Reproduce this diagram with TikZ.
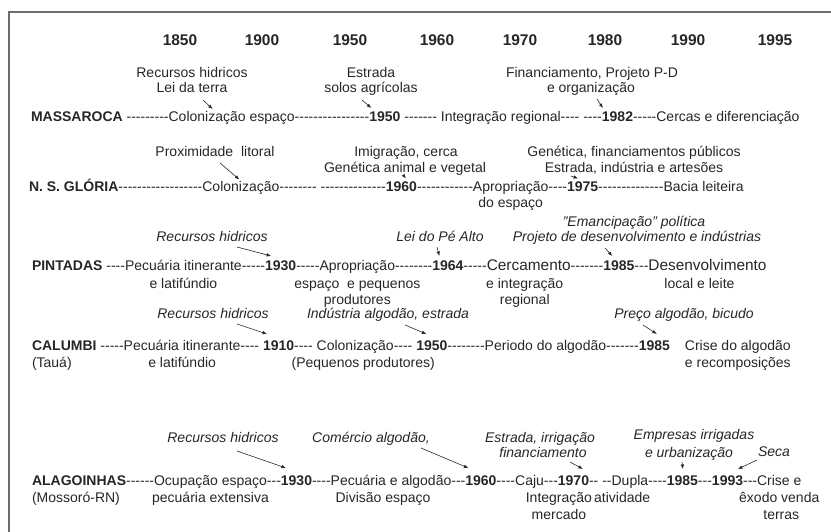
\documentclass[tikz,border=0pt]{standalone}
\usepackage{fontspec}
\setmainfont{Liberation Sans}
\usetikzlibrary{calc,arrows.meta}
\ExplSyntaxOn
\NewDocumentCommand\dsh{m}{\prg_replicate:nn{#1}{-\kern0pt}}
\ExplSyntaxOff
\newcommand\tsp{\ \mbox{}}
\definecolor{ink}{HTML}{262626}
\definecolor{framec}{HTML}{6E6E6E}
\newcommand\fs{\fontsize{14}{15}\selectfont}
\newcommand\fb{\fontsize{15.4}{16}\selectfont}
\tikzset{
  seg/.style={inner sep=0pt, outer sep=0pt, anchor=base west, font=\fs, text=ink},
  lab/.style={seg, font=\fs\bfseries},
  yr/.style={seg, font=\fs\bfseries},
  big/.style={seg, font=\fb},
  note/.style={inner sep=0pt, outer sep=0pt, anchor=base, font=\fs, text=ink},
  inote/.style={note, font=\fs\itshape},
  head/.style={note, font=\fontsize{15.5}{16}\selectfont\bfseries},
  arr/.style={draw=ink, line width=0.6pt, -{Latex[length=4.5pt,width=3.5pt]}},
}
\begin{document}
\begin{tikzpicture}[x=1pt,y=1pt]
\useasboundingbox (0,0) rectangle (831,-532);
\draw[framec, line width=1.6pt] (9,-532) -- (9,-12) -- (831,-12);

% header years
\node[head] (h1) at (180,-46) {1850};
\node[head] (h2) at (262,-46) {1900};
\node[head] (h3) at (350,-46) {1950};
\node[head] (h4) at (437,-46) {1960};
\node[head] (h5) at (520,-46) {1970};
\node[head] (h6) at (605,-46) {1980};
\node[head] (h7) at (688,-46) {1990};
\node[head] (h8) at (775,-46) {1995};

% ---------------- MASSAROCA
\node[note] (a1a) at (192,-78) {Recursos hidricos};
\node[note] (a1b) at (192,-93) {Lei da terra};
\node[note] (a2a) at (371,-78) {Estrada};
\node[note] (a2b) at (371,-93) {solos agrícolas};
\node[note] (a3a) at (592,-78) {Financiamento, Projeto P-D};
\node[note] (a3b) at (591,-93) {e organização};

\node[lab] (m0) at (31,-122) {MASSAROCA\tsp};
\node[seg] (m1) at (m0.base east) {\dsh{9}};
\node[seg] (m2) at (m1.base east) {Colonização espaço};
\node[seg] (m3) at (m2.base east) {\dsh{16}};
\node[yr]  (m4) at (m3.base east) {1950};
\node[seg] (m5) at (m4.base east) {\ \dsh{7}\tsp};
\node[seg] (m6) at (m5.base east) {Integração regional};
\node[seg] (m7) at (m6.base east) {\dsh{4}\ \dsh{4}};
\node[yr]  (m8) at (m7.base east) {1982};
\node[seg] (m9) at (m8.base east) {\dsh{5}};
\node[seg] (m10) at (m9.base east) {Cercas e diferenciação};

\draw[arr] ($(a1b.base)+(11,-7)$) -- ($(m2.base west)+(44,13)$);
\draw[arr] ($(a2b.base)+(-9,-7)$) -- ($(m4.base west)+(2,14)$);
\draw[arr] ($(a3b.base)+(6,-6)$) -- ($(m8.base west)+(1,14)$);

% ---------------- N. S. GLORIA
\node[note] (b1) at (215,-157) {Proximidade\ \ litoral};
\node[note] (b2a) at (406,-157) {Imigração, cerca};
\node[note] (b2b) at (405,-173) {Genética animal e vegetal};
\node[note] (b3a) at (634,-157) {Genética, financiamentos públicos};
\node[note] (b3b) at (634,-173) {Estrada, indústria e artesões};

\node[lab] (g0) at (29,-192) {N. S. GLÓRIA};
\node[seg] (g1) at (g0.base east) {\dsh{18}};
\node[seg] (g2) at (g1.base east) {Colonização};
\node[seg] (g3) at (g2.base east) {\dsh{8}\ \dsh{14}};
\node[yr]  (g4) at (g3.base east) {1960};
\node[seg] (g5) at (g4.base east) {\dsh{12}};
\node[seg] (g6) at (g5.base east) {Apropriação};
\node[seg] (g7) at (g6.base east) {\dsh{4}};
\node[yr]  (g8) at (g7.base east) {1975};
\node[seg] (g9) at (g8.base east) {\dsh{14}};
\node[seg] (g10) at (g9.base east) {Bacia leiteira};
\node[note] (gs1) at ($(g6.base)+(0,-16)$) {do espaço};

\draw[arr] ($(b1.base)+(5,-6)$) -- ($(g2.base west)+(37,12.5)$);
\draw[arr] ($(b2b.base)+(-1,-3)$) -- ($(g4.base west)+(20,13.5)$);
\draw[arr] ($(b3b.base)+(-63,-3)$) -- ($(g8.base west)+(11,13.5)$);

% ---------------- PINTADAS
\node[inote] (c1) at (212,-241) {Recursos hidricos};
\node[inote] (c2) at (440,-241) {Lei do Pé Alto};
\node[inote] (c3a) at (634,-227) {"Emancipação" política};
\node[inote] (c3b) at (637,-242) {Projeto de desenvolvimento e indústrias};

\node[lab] (p0) at (32,-271) {PINTADAS\tsp};
\node[seg] (p1) at (p0.base east) {\dsh{4}};
\node[seg] (p2) at (p1.base east) {Pecuária itinerante};
\node[seg] (p3) at (p2.base east) {\dsh{5}};
\node[yr]  (p4) at (p3.base east) {1930};
\node[seg] (p5) at (p4.base east) {\dsh{5}};
\node[seg] (p6) at (p5.base east) {Apropriação};
\node[seg] (p7) at (p6.base east) {\dsh{8}};
\node[yr]  (p8) at (p7.base east) {1964};
\node[seg] (p9) at (p8.base east) {\dsh{5}};
\node[big] (p10) at (p9.base east) {Cercamento};
\node[seg] (p11) at (p10.base east) {\dsh{7}};
\node[yr]  (p12) at (p11.base east) {1985};
\node[seg] (p13) at (p12.base east) {\dsh{3}};
\node[big] (p14) at (p13.base east) {Desenvolvimento};
\node[note] (ps1) at ($(p2.base)+(0,-17)$) {e latifúndio};
\node[note] (ps2) at ($(p6.base)+(0,-17)$) {espaço\ \ e pequenos};
\node[note] (ps3) at ($(p6.base)+(0,-34)$) {produtores};
\node[note] (ps4) at ($(p10.base)+(-4,-17)$) {e integração};
\node[note] (ps5) at ($(p10.base)+(-4,-34)$) {regional};
\node[note] (ps6) at ($(p14.base)+(-8,-17)$) {local e leite};

\draw[arr] ($(c1.base)+(25,-6)$) -- ($(p4.base west)+(6,15)$);
\draw[arr] ($(c2.base)+(-3,-6)$) -- ($(p8.base west)+(7,15)$);
\draw[arr] ($(c3b.base)+(-32,-6)$) -- ($(p12.base west)+(9,15)$);

% ---------------- CALUMBI
\node[inote] (d1) at (213,-318) {Recursos hidricos};
\node[inote] (d2) at (388,-318) {Indústria algodão, estrada};
\node[inote] (d3) at (684,-318) {Preço algodão, bicudo};

\node[lab] (k0) at (32,-350) {CALUMBI\tsp};
\node[seg] (k1) at (k0.base east) {\dsh{5}};
\node[seg] (k2) at (k1.base east) {Pecuária itinerante};
\node[seg] (k3) at (k2.base east) {\dsh{4}\tsp};
\node[yr]  (k4) at (k3.base east) {1910};
\node[seg] (k5) at (k4.base east) {\dsh{4}\tsp};
\node[seg] (k6) at (k5.base east) {Colonização};
\node[seg] (k7) at (k6.base east) {\dsh{4}\tsp};
\node[yr]  (k8) at (k7.base east) {1950};
\node[seg] (k9) at (k8.base east) {\dsh{8}};
\node[seg] (k10) at (k9.base east) {Periodo do algodão};
\node[seg] (k11) at (k10.base east) {\dsh{7}};
\node[yr]  (k12) at (k11.base east) {1985};
\node[seg] (k13) at ($(k12.base east)+(15,0)$) {Crise do algodão};
\node[seg] (ks1) at ($(k0.base west)+(0,-17)$) {(Tauá)};
\node[note] (ks2) at ($(k2.base)+(0,-17)$) {e latifúndio};
\node[note] (ks3) at ($(k6.base)+(8,-17)$) {(Pequenos produtores)};
\node[seg] (ks4) at ($(k13.base west)+(0,-17)$) {e recomposições};

\draw[arr] ($(d1.base)+(24,-6)$) -- ($(k4.base west)+(4,16)$);
\draw[arr] ($(d2.base)+(17,-7)$) -- ($(k8.base west)+(10,16)$);
\draw[arr] ($(d3.base)+(-41,-7)$) -- ($(k12.base west)+(18,16)$);

% ---------------- ALAGOINHAS
\node[inote] (e1) at (223,-442) {Recursos hidricos};
\node[inote] (e2) at (371,-442) {Comércio algodão,};
\node[inote] (e3a) at (540,-442) {Estrada, irrigação};
\node[inote] (e3b) at (543,-457) {financiamento};
\node[inote] (e4a) at (694,-439) {Empresas irrigadas};
\node[inote] (e4b) at (689,-457) {e urbanização};
\node[inote] (e5) at (774,-456) {Seca};

\node[lab] (l0) at (32,-485) {ALAGOINHAS};
\node[seg] (l1) at (l0.base east) {\dsh{6}};
\node[seg] (l2) at (l1.base east) {Ocupação espaço};
\node[seg] (l3) at (l2.base east) {\dsh{3}};
\node[yr]  (l4) at (l3.base east) {1930};
\node[seg] (l5) at (l4.base east) {\dsh{4}};
\node[seg] (l6) at (l5.base east) {Pecuária e algodão};
\node[seg] (l7) at (l6.base east) {\dsh{3}};
\node[yr]  (l8) at (l7.base east) {1960};
\node[seg] (l9) at (l8.base east) {\dsh{4}};
\node[seg] (l10) at (l9.base east) {Caju};
\node[seg] (l11) at (l10.base east) {\dsh{3}};
\node[yr]  (l12) at (l11.base east) {1970};
\node[seg] (l13) at (l12.base east) {\dsh{2}\ \dsh{2}};
\node[seg] (l14) at (l13.base east) {Dupla};
\node[seg] (l15) at (l14.base east) {\dsh{4}};
\node[yr]  (l16) at (l15.base east) {1985};
\node[seg] (l17) at (l16.base east) {\dsh{3}};
\node[yr]  (l18) at (l17.base east) {1993};
\node[seg] (l19) at (l18.base east) {\dsh{3}};
\node[seg] (l20) at (l19.base east) {Crise e};
\node[seg] (ls1) at ($(l0.base west)+(0,-17)$) {(Mossoró-RN)};
\node[note] (ls2) at ($(l2.base)+(0,-17)$) {pecuária extensiva};
\node[note] (ls3) at ($(l6.base)+(-8,-17)$) {Divisão espaço};
\node[note] (ls4) at ($(l11.base)+(8,-17)$) {Integração};
\node[note] (ls5) at ($(l11.base)+(8,-34)$) {mercado};
\node[note, anchor=base east] (ls6) at ($(l14.base east)+(2,-17)$) {atividade};
\node[note] (ls7) at ($(l20.base)+(0,-17)$) {êxodo venda};
\node[note] (ls8) at ($(l20.base)+(2,-34)$) {terras};

\draw[arr] ($(e1.base)+(14,-9)$) -- ($(l4.base west)+(5,17)$);
\draw[arr] ($(e2.base)+(50,-6)$) -- ($(l8.base west)+(3,17)$);
\draw[arr] ($(e3b.base)+(27,-5)$) -- ($(l12.base west)+(25,16)$);
\draw[arr] ($(e4b.base)+(-7,-5)$) -- ($(l16.base west)+(16,16)$);
\draw[arr] ($(e5.base)+(-17,-4)$) -- ($(l18.base west)+(26,16)$);
\end{tikzpicture}
\end{document}
